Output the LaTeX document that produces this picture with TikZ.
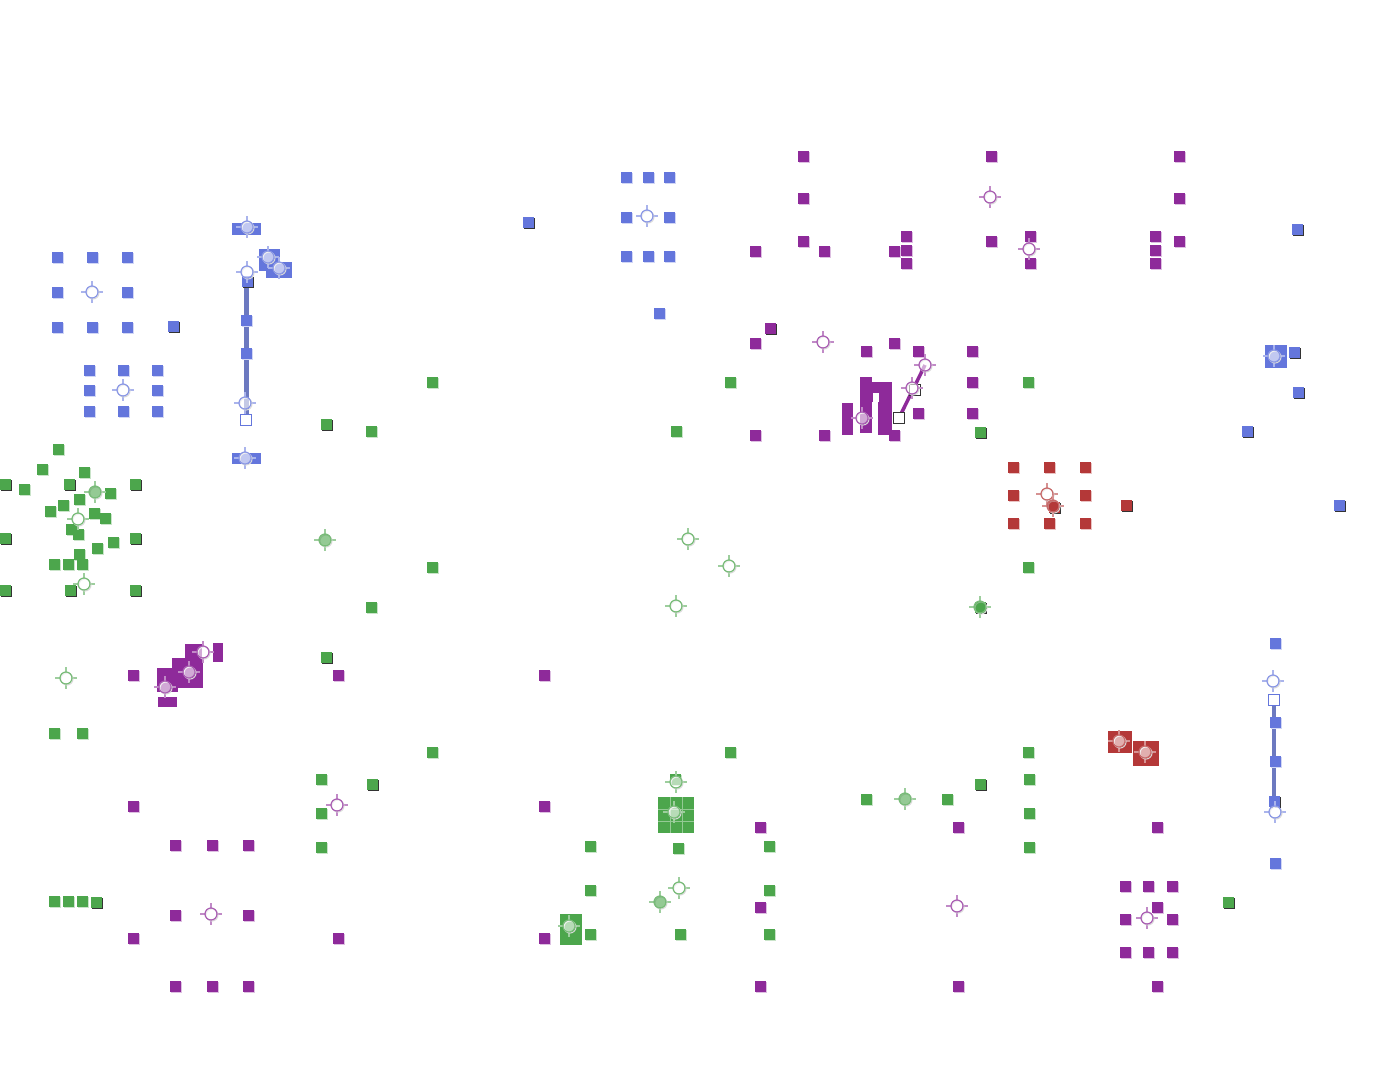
\documentclass[tikz,border=0pt]{standalone}
\usepackage{tikz}
\usetikzlibrary{arrows.meta}

\definecolor{sqblue}{RGB}{100,118,220}
\definecolor{sqpurple}{RGB}{142,42,154}
\definecolor{sqgreen}{RGB}{76,166,76}
\definecolor{sqred}{RGB}{180,56,56}

\newcommand{\putsq}[3]{%
  \fill[#1!30] (#2-4,#3-4) rectangle ++(11,11);
  \fill[#1] (#2-5.5,#3-5.5) rectangle ++(11,11);}
\newcommand{\putsqd}[3]{%
  \fill[black!80] (#2-4,#3-4) rectangle ++(11,11);
  \fill[#1] (#2-5.5,#3-5.5) rectangle ++(11,11);}
\newcommand{\putopen}[3]{%
  \filldraw[#1, fill=white, line width=0.8pt] (#2-5.5,#3-5.5) rectangle ++(11,11);}
\newcommand{\putaim}[4][white]{%
  \draw[#2!55, line width=0.6pt] (#3-11,#4) -- (#3-5,#4) (#3+5,#4) -- (#3+11,#4)
    (#3,#4-11) -- (#3,#4-5) (#3,#4+5) -- (#3,#4+11);
  \draw[black!15, line width=0.6pt] (#3+1,#4+1) circle (6);
  \filldraw[#2!75, fill=#1, fill opacity=0.6, line width=0.7pt] (#3,#4) circle (6);}

\tikzset{
  wire/.style={line width=2.5pt, line cap=round},
  hole/.style={fill=white}
}

\begin{document}
\begin{tikzpicture}[x=0.02cm, y=-0.02cm]
  \useasboundingbox (0,0) rectangle (1380,1080);

  % blue
  \draw[wire, sqblue!70!gray] (246.5,281) -- (246.5,420);
  \draw[wire, sqblue!70!gray] (1274,700) -- (1274,800);
  \foreach \x/\y in {57/257, 92/257, 127/257, 57/292, 127/292, 57/327, 92/327, 127/327,
      89/370, 123/370, 157/370, 89/390, 157/390, 89/411, 123/411, 157/411,
      246/320, 246/353, 626/177, 648/177, 669/177, 626/217, 669/217, 626/256, 648/256, 669/256,
      659/313, 1275/643, 1275/722, 1275/761, 1275/863}
    {\putsq{sqblue}{\x}{\y}}
  \foreach \x/\y in {173/326, 528/222, 1297/229, 1294/352, 1298/392, 1247/431, 1339/505, 247/281, 1274/801}
    {\putsqd{sqblue}{\x}{\y}}
  \fill[sqblue] (232,223) rectangle (261,235);
  \fill[sqblue] (232,453) rectangle (261,464);
  \fill[sqblue] (259,249) rectangle (280,271);
  \fill[sqblue] (266,262) rectangle (292,278);
  \fill[sqblue] (1265,345) rectangle (1287,368);
  \putopen{sqblue}{246}{420}
  \putopen{sqblue}{1274}{700}
  \foreach \x/\y in {92/292, 123/390, 647/216, 247/227, 247/272, 245/403, 245/458,
      268/257, 279/268, 1274/356, 1273/681, 1275/812}
    {\putaim{sqblue}{\x}{\y}}

  % purple
  \foreach \x/\y in {803/156, 991/156, 1179/156, 803/198, 1179/198, 803/241, 991/241, 1179/241,
      755/251, 824/251, 894/251, 906/236, 906/250, 906/263, 1030/236, 1030/263,
      1155/236, 1155/250, 1155/263, 755/343, 866/351, 894/343, 918/351, 972/351, 972/382,
      972/413, 918/413, 755/435, 824/435, 894/435, 133/675, 338/675, 544/675, 133/806, 544/806,
      175/845, 212/845, 248/845, 175/915, 248/915, 175/986, 212/986, 248/986,
      133/938, 338/938, 544/938, 760/827, 958/827, 1157/827, 760/907, 1157/907,
      760/986, 958/986, 1157/986, 1125/886, 1148/886, 1172/886, 1125/919, 1172/919,
      1125/952, 1148/952, 1172/952}
    {\putsq{sqpurple}{\x}{\y}}
  \putsqd{sqpurple}{770}{328}
  \fill[sqpurple] (860,377) rectangle (872,433);
  \fill[sqpurple] (860,382) rectangle (892,402);
  \fill[sqpurple] (878,382) rectangle (892,435);
  \fill[sqpurple] (842,403) rectangle (853,435);
  \fill[hole] (873,393) rectangle (879,402);
  \fill[sqpurple] (213,643) rectangle (223,662);
  \fill[sqpurple] (185,644) rectangle (202,660);
  \fill[sqpurple] (172,658) rectangle (203,688);
  \fill[sqpurple] (157,668) rectangle (178,692);
  \fill[sqpurple] (158,697) rectangle (177,707);
  \draw[sqpurple, line width=2pt] (899,418) -- (925,365);
  \putopen{black!80}{899}{418}
  \putopen{black!80}{915}{390}
  \foreach \x/\y in {990/197, 1029/249, 823/342, 862/418, 912/388, 925/365,
      203/652, 189/672, 165/687, 337/805, 211/914, 957/906, 1147/918}
    {\putaim{sqpurple}{\x}{\y}}

  % red
  \foreach \x/\y in {1013/467, 1049/467, 1085/467, 1013/495, 1085/495, 1013/523, 1049/523, 1085/523}
    {\putsq{sqred}{\x}{\y}}
  \putsqd{sqred}{1126}{505}
  \putsqd{sqred}{1054}{507}
  \fill[sqred] (1108,731) rectangle (1132,753);
  \fill[sqred] (1133,741) rectangle (1159,766);
  \putaim{sqred}{1047}{494}
  \putaim[sqred]{sqred}{1053}{506}
  \putaim{sqred}{1119}{741}
  \putaim{sqred}{1145}{752}

  % green
  \foreach \x/\y in {58/449, 42/469, 84/472, 24/489, 110/493, 79/499, 63/505, 50/511, 94/513,
      105/518, 71/529, 78/534, 113/542, 97/548, 79/554, 82/564, 54/564, 68/564,
      432/382, 730/382, 1028/382, 371/431, 676/431, 432/567, 1028/567, 371/607,
      432/752, 730/752, 1028/752, 321/779, 1029/779, 321/813, 1029/813, 321/847, 1029/847,
      866/799, 947/799, 54/733, 82/733, 54/901, 68/901, 82/901, 590/846, 769/846,
      590/890, 769/890, 590/934, 680/934, 769/934, 678/848, 675/779}
    {\putsq{sqgreen}{\x}{\y}}
  \foreach \x/\y in {5/484, 69/484, 135/484, 5/538, 135/538, 5/590, 70/590, 135/590,
      326/424, 980/432, 326/657, 372/784, 980/784, 96/902, 1228/902, 980/607}
    {\putsqd{sqgreen}{\x}{\y}}
  \fill[sqgreen] (658,797) rectangle (694,833);
  \draw[sqgreen!60, line width=0.5pt] (670,797) -- (670,833) (682,797) -- (682,833)
    (658,809) -- (694,809) (658,821) -- (694,821);
  \fill[sqgreen] (560,914) rectangle (582,945);
  \foreach \x/\y in {78/519, 84/584, 688/539, 729/566, 676/606, 66/678, 676/782,
      674/812, 679/888, 569/926}
    {\putaim{sqgreen}{\x}{\y}}
  \foreach \x/\y in {95/492, 325/540, 980/607, 660/902, 905/799}
    {\putaim[sqgreen]{sqgreen}{\x}{\y}}
\end{tikzpicture}
\end{document}
